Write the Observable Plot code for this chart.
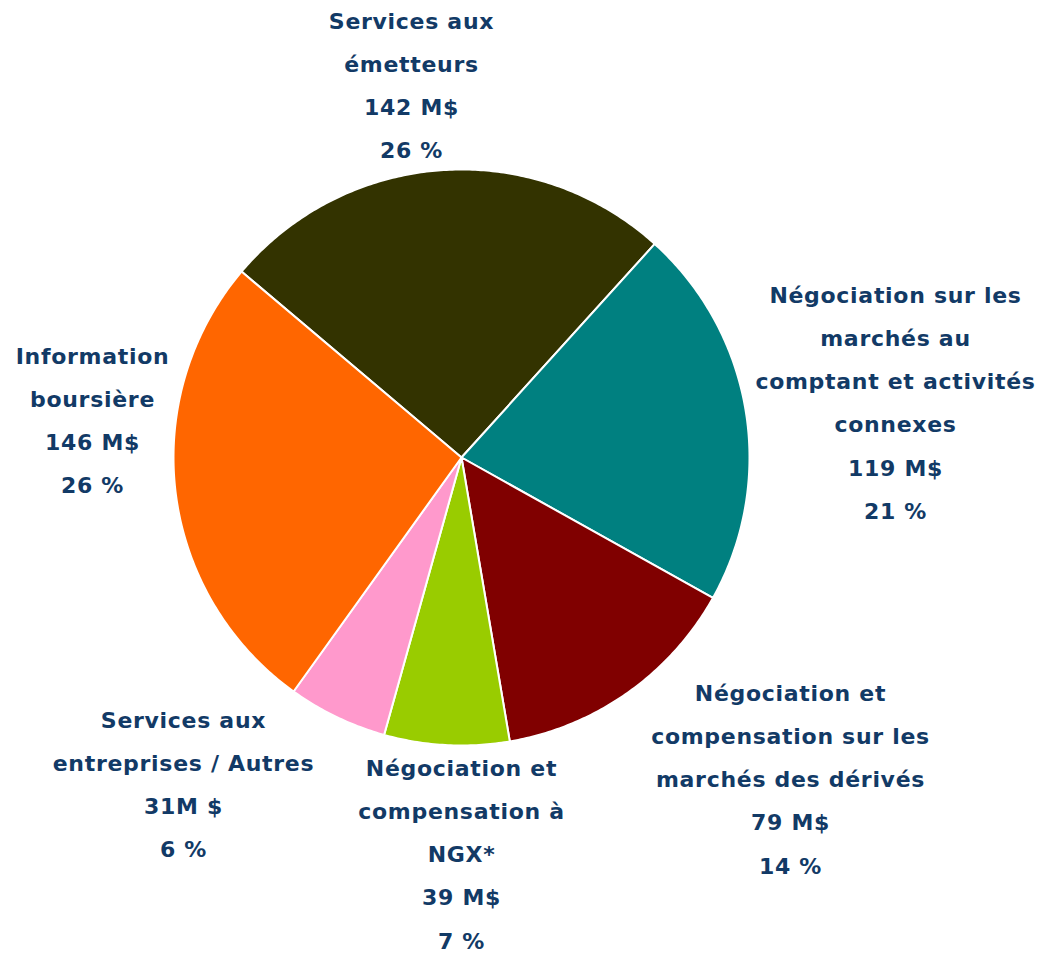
<!DOCTYPE html>
<html>
<head>
<meta charset="utf-8">
<script src="https://cdn.jsdelivr.net/npm/d3@7"></script>
<script src="https://cdn.jsdelivr.net/npm/@observablehq/plot@0.6"></script>
<style>
  html, body { margin: 0; padding: 0; background: #fff; }
  #chart svg text { letter-spacing: 0.7px; }
</style>
</head>
<body>
<div id="chart"></div>
<script>
// ---- data ----
const categories = [
  "Services aux émetteurs",
  "Négociation sur les marchés au comptant et activités connexes",
  "Négociation et compensation sur les marchés des dérivés",
  "Négociation et compensation à NGX*",
  "Services aux entreprises / Autres",
  "Information boursière"
];
const values = [142, 119, 79, 39, 31, 146];
const valueLabels = ["142 M$", "119 M$", "79 M$", "39 M$", "31M $", "146 M$"];
const percentLabels = ["26 %", "21 %", "14 %", "7 %", "6 %", "26 %"];
const nameLines = [
  ["Services aux", "émetteurs"],
  ["Négociation sur les", "marchés au", "comptant et activités", "connexes"],
  ["Négociation et", "compensation sur les", "marchés des dérivés"],
  ["Négociation et", "compensation à", "NGX*"],
  ["Services aux", "entreprises / Autres"],
  ["Information", "boursière"]
];
const colors = ["#333300", "#008080", "#800000", "#99cc00", "#ff99cc", "#ff6600"];

// ---- layout (pixel geometry of the page) ----
const W = 1040, H = 955;
const cx = 461, cy = 457, R = 288;
const startDeg = -49.8;
// label anchor: [center x px, first-line center y px]
const labelAnchors = [[411, 23], [895, 297], [790, 695], [461, 770], [183, 722], [92, 358]];
const lineGap = 43.2;
const fontSize = 22;

// ---- build slice polygons in data units (radius = 1) ----
const pie = d3.pie().sort(null).value(d => d.value)
  .startAngle(startDeg * Math.PI / 180)
  .endAngle(startDeg * Math.PI / 180 + 2 * Math.PI);
const rows = categories.map((c, i) => ({name: c, value: values[i]}));
const arcs = pie(rows);
const verts = [];
arcs.forEach((a, i) => {
  const name = a.data.name;
  verts.push({name, x: 0, y: 0});
  const n = Math.max(4, Math.ceil((a.endAngle - a.startAngle) / 0.01));
  for (let k = 0; k <= n; k++) {
    const t = a.startAngle + (a.endAngle - a.startAngle) * k / n;
    verts.push({name, x: Math.sin(t), y: Math.cos(t)});
  }
  verts.push({name, x: 0, y: 0});
});

const labels = categories.map((c, i) => ({
  name: c,
  text: [...nameLines[i], valueLabels[i], percentLabels[i]].join("\n"),
  x: (labelAnchors[i][0] - cx) / R,
  y: (cy - (labelAnchors[i][1] - 1.15 * fontSize)) / R
}));

const chart = Plot.plot({
  width: W,
  height: H,
  margin: 0,
  x: {domain: [-cx / R, (W - cx) / R], range: [0, W], axis: null},
  y: {domain: [-(H - cy) / R, cy / R], range: [H, 0], axis: null},
  color: {domain: categories, range: colors},
  style: {fontFamily: "'DejaVu Sans', sans-serif", background: "#fff"},
  marks: [
    Plot.line(verts, {
      x: "x", y: "y", z: "name", fill: "name",
      stroke: "white", strokeWidth: 2, strokeLinejoin: "round", curve: "linear"
    }),
    Plot.text(labels, {
      x: "x", y: "y", text: "text",
      lineAnchor: "top", textAnchor: "middle",
      lineHeight: lineGap / fontSize,
      fontSize: fontSize, fontWeight: "bold", fill: "#123A66"
    })
  ]
});
document.getElementById("chart").appendChild(chart);
</script>
</body>
</html>
